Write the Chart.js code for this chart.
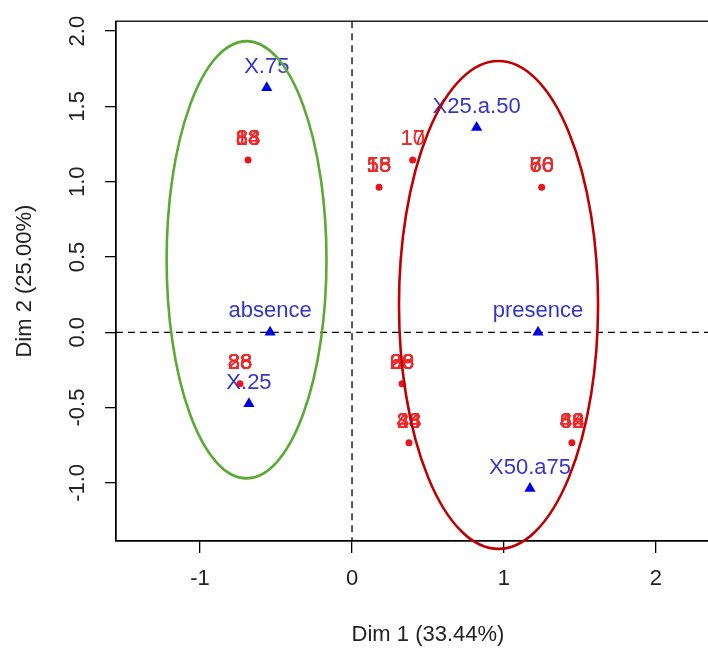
<!DOCTYPE html>
<html>
<head>
<meta charset="utf-8">
<script src="https://cdn.jsdelivr.net/npm/chart.js@4/dist/chart.umd.min.js"></script>
<style>
  html, body { margin: 0; padding: 0; background: #fff; overflow: hidden; }
  #wrap { width: 760px; height: 648px; }
</style>
</head>
<body>
<div id="wrap"><canvas id="mcaChart" width="760" height="648"></canvas></div>
<script>
// individuals (red points), several ids share the same spot
const indX = [-0.684, 0.178, 0.399, 1.248, -0.737, 0.329, 0.375, 1.447];
const indY = [1.144, 0.964, 1.144, 0.964, -0.341, -0.341, -0.734, -0.734];
const indLabels = [
  ['18', '38', '68', '88', '14', '84'],
  ['15', '18', '55', '58', '13'],
  ['10', '17'],
  ['60', '66', '76', '80', '70'],
  ['28', '38', '83', '88', '23', '86'],
  ['26', '36', '63', '68', '29', '98'],
  ['24', '34', '44', '48', '43', '88'],
  ['42', '46', '64', '68', '49', '88']
];

// categories (blue triangles)
const catNames = ['X.75', 'X25.a.50', 'absence', 'presence', 'X.25', 'X50.a75'];
const catX = [-0.561, 0.820, -0.539, 1.224, -0.678, 1.171];
const catY = [1.624, 1.360, 0.0, 0.0, -0.475, -1.038];

// axes
const xTicks = [-1, 0, 1, 2];
const yTicks = [-1.0, -0.5, 0.0, 0.5, 1.0, 1.5, 2.0];
const xTitle = 'Dim 1 (33.44%)';
const yTitle = 'Dim 2 (25.00%)';

// the two hand drawn ellipses: centre and radii in data units
const ellCx = [-0.694, 0.964];
const ellCy = [0.482, 0.182];
const ellRx = [0.526, 0.655];
const ellRy = [1.452, 1.620];
const ellColors = ['#5aab33', '#c00000'];

const FONT = '"Liberation Sans", Arial, sans-serif';

const indPoints = indX.map((x, i) => ({ x: x, y: indY[i] }));
const catPoints = catX.map((x, i) => ({ x: x, y: catY[i] }));

const decorPlugin = {
    id: 'decor',
    beforeDatasetsDraw(chart) {
        const { ctx, chartArea, scales } = chart;
        const x0 = scales.x.getPixelForValue(0);
        const y0 = scales.y.getPixelForValue(0);
        ctx.save();
        ctx.strokeStyle = '#000';
        ctx.lineWidth = 1.3;
        ctx.setLineDash([7, 5]);
        ctx.beginPath();
        ctx.moveTo(chartArea.left, y0);
        ctx.lineTo(chartArea.right, y0);
        ctx.moveTo(x0, chartArea.top);
        ctx.lineTo(x0, chartArea.bottom);
        ctx.stroke();
        ctx.restore();
    },
    afterDatasetsDraw(chart) {
        const { ctx } = chart;
        ctx.save();
        ctx.textAlign = 'center';
        ctx.textBaseline = 'middle';
        ctx.font = '22px ' + FONT;

        // labels of individuals
        const m0 = chart.getDatasetMeta(0);
        ctx.fillStyle = '#ee2a2a';
        m0.data.forEach((pt, i) => {
            indLabels[i].forEach(lab => {
                ctx.fillText(lab, pt.x, pt.y - 21);
            });
        });

        // labels of categories
        const m1 = chart.getDatasetMeta(1);
        ctx.fillStyle = '#3535cc';
        m1.data.forEach((pt, i) => {
            ctx.fillText(catNames[i], pt.x, pt.y - 21);
        });
        ctx.restore();
    },
    afterDraw(chart) {
        const { ctx, chartArea, scales } = chart;
        ctx.save();
        // frame round the plot region
        ctx.strokeStyle = '#000';
        ctx.lineWidth = 1.3;
        ctx.strokeRect(chartArea.left, chartArea.top,
            chartArea.right - chartArea.left, chartArea.bottom - chartArea.top);

        // ellipses (not clipped, the red one goes under the frame)
        ctx.lineWidth = 2.6;
        for (let i = 0; i < ellCx.length; i++) {
            const cx = scales.x.getPixelForValue(ellCx[i]);
            const cy = scales.y.getPixelForValue(ellCy[i]);
            const rx = Math.abs(scales.x.getPixelForValue(ellCx[i] + ellRx[i]) - cx);
            const ry = Math.abs(scales.y.getPixelForValue(ellCy[i] + ellRy[i]) - cy);
            ctx.strokeStyle = ellColors[i];
            ctx.beginPath();
            ctx.ellipse(cx, cy, rx, ry, 0, 0, Math.PI * 2);
            ctx.stroke();
        }
        ctx.restore();
    }
};

const ctx = document.getElementById('mcaChart').getContext('2d');
new Chart(ctx, {
    type: 'scatter',
    data: {
        datasets: [
            {
                label: 'individuals',
                data: indPoints,
                pointStyle: 'circle',
                pointRadius: 3.5,
                backgroundColor: '#e8141e',
                borderColor: '#e8141e',
                borderWidth: 0
            },
            {
                label: 'categories',
                data: catPoints,
                pointStyle: 'triangle',
                pointRadius: 6.5,
                backgroundColor: '#0000e6',
                borderColor: '#0000e6',
                borderWidth: 0
            }
        ]
    },
    options: {
        responsive: false,
        animation: false,
        events: [],
        layout: { padding: { top: 18, right: 20, left: 0, bottom: 0 } },
        plugins: {
            legend: { display: false },
            tooltip: { enabled: false }
        },
        scales: {
            x: {
                type: 'linear',
                min: -1.553,
                max: 2.553,
                afterBuildTicks: s => { s.ticks = xTicks.map(v => ({ value: v })); },
                afterFit: s => { s.height = 107; },
                grid: { drawOnChartArea: false, drawTicks: true, tickLength: 12, color: '#000', lineWidth: 1.3 },
                border: { display: true, color: '#000', width: 1.3 },
                ticks: {
                    color: '#222',
                    font: { family: FONT, size: 22 },
                    padding: 13,
                    maxRotation: 0,
                    callback: v => String(v)
                },
                title: {
                    display: true,
                    text: xTitle,
                    color: '#222',
                    font: { family: FONT, size: 22 },
                    padding: { top: 0, bottom: 0 }
                }
            },
            y: {
                type: 'linear',
                min: -1.386,
                max: 2.066,
                afterBuildTicks: s => { s.ticks = yTicks.map(v => ({ value: v })); },
                afterFit: s => { s.width = 116; },
                grid: { drawOnChartArea: false, drawTicks: true, tickLength: 11, color: '#000', lineWidth: 1.3 },
                border: { display: true, color: '#000', width: 1.3 },
                ticks: {
                    color: '#222',
                    font: { family: FONT, size: 22 },
                    padding: 8,
                    minRotation: 90,
                    maxRotation: 90,
                    crossAlign: 'center',
                    callback: v => v.toFixed(1)
                },
                title: {
                    display: true,
                    text: yTitle,
                    color: '#222',
                    font: { family: FONT, size: 22 },
                    padding: { top: 12, bottom: 0 }
                }
            }
        }
    },
    plugins: [decorPlugin]
});
</script>
</body>
</html>
